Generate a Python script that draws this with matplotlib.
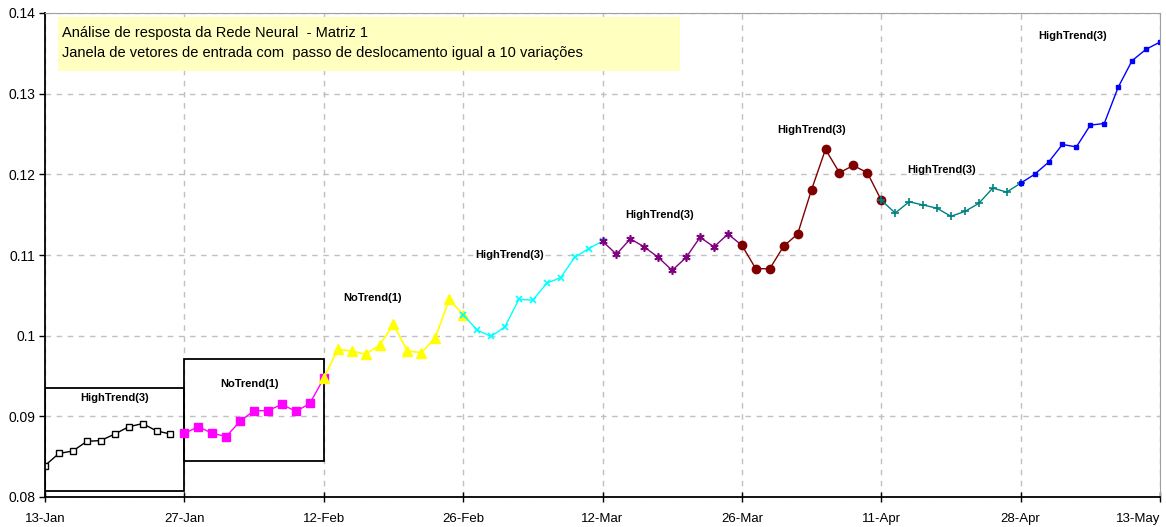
"""
Neural network response chart - Matriz 1, window shift of 10 variations.
"""
import numpy as np
import matplotlib
matplotlib.use("Agg")
import matplotlib.pyplot as plt
from matplotlib.patches import Rectangle

plt.rcParams.update({
    "font.family": ["Liberation Sans", "DejaVu Sans"],
    "font.size": 10,
})

# x ticks every 10 trading days
tick_labels = ["13-Jan", "27-Jan", "12-Feb", "26-Feb", "12-Mar",
               "26-Mar", "11-Apr", "28-Apr", "13-May"]
y_ticks = [0.08, 0.09, 0.10, 0.11, 0.12, 0.13, 0.14]
y_tick_labels = ["0.08", "0.09", "0.1", "0.11", "0.12", "0.13", "0.14"]

# series values, each window starts at the given day index
black_start = 0
black = [0.0839, 0.0854, 0.0857, 0.0869, 0.0870, 0.0878, 0.0887, 0.0891, 0.0882, 0.0878]
magenta_start = 10
magenta = [0.0879, 0.0887, 0.0879, 0.0875, 0.0894, 0.0907, 0.0907, 0.0915, 0.0906,
           0.0916, 0.0947]
yellow_start = 20
yellow = [0.0947, 0.0983, 0.0981, 0.0977, 0.0988, 0.1014, 0.0981, 0.0979, 0.0997,
          0.1045, 0.1026]
cyan_start = 30
cyan = [0.1026, 0.1007, 0.0999, 0.1011, 0.1045, 0.1044, 0.1065, 0.1072, 0.1097,
        0.1108, 0.1117]
purple_start = 40
purple = [0.1117, 0.1101, 0.1120, 0.1110, 0.1097, 0.1081, 0.1097, 0.1122, 0.1110,
          0.1126, 0.1112]
darkred_start = 50
darkred = [0.1112, 0.1083, 0.1083, 0.1111, 0.1126, 0.1181, 0.1231, 0.1202, 0.1211,
           0.1202, 0.1168]
teal_start = 60
teal = [0.1168, 0.1152, 0.1166, 0.1162, 0.1158, 0.1148, 0.1154, 0.1164, 0.1183,
        0.1178, 0.1189]
blue_start = 70
blue = [0.1189, 0.1200, 0.1215, 0.1237, 0.1234, 0.1261, 0.1263, 0.1308, 0.1341,
        0.1355, 0.1364]

# classification labels (text, day index, value)
class_labels = [
    ("HighTrend(3)", 5.0, 0.0923),
    ("NoTrend(1)", 14.7, 0.0940),
    ("NoTrend(1)", 23.5, 0.1047),
    ("HighTrend(3)", 33.3, 0.1100),
    ("HighTrend(3)", 44.1, 0.1150),
    ("HighTrend(3)", 55.0, 0.1255),
    ("HighTrend(3)", 64.3, 0.1205),
    ("HighTrend(3)", 73.7, 0.1371),
]

# window boxes (start day, end day, low, high)
boxes = [(0, 10, 0.0807, 0.0935), (10, 20, 0.0845, 0.0971)]

title_lines = ["Análise de resposta da Rede Neural  - Matriz 1",
               "Janela de vetores de entrada com  passo de deslocamento igual a 10 variações"]


def xs(start, vals):
    return np.arange(start, start + len(vals))


fig = plt.figure(figsize=(11.66, 5.27), dpi=100)
ax = fig.add_axes([45 / 1166, 1 - 497 / 527, 1115 / 1166, 484 / 527])

ax.plot(xs(black_start, black), black, color="black", lw=1, marker="s", ms=5,
        mfc="white", mec="black", mew=1)
ax.plot(xs(magenta_start, magenta), magenta, color="#FF00FF", lw=1, marker="s", ms=5.5)
ax.plot(xs(yellow_start, yellow), yellow, color="#FFFF00", lw=1.2, marker="^", ms=7)
ax.plot(xs(cyan_start, cyan), cyan, color="#00FFFF", lw=1, marker="x", ms=5, mew=1.2)
ax.plot(xs(purple_start, purple), purple, color="#800080", lw=1, marker=(6, 2, 0),
        ms=6, mew=1.2, markevery=slice(0, len(purple) - 1))
ax.plot(xs(darkred_start, darkred), darkred, color="#800000", lw=1, marker="o", ms=6)
ax.plot(xs(teal_start, teal), teal, color="#008080", lw=1, marker="+", ms=6, mew=1.2)
ax.plot(xs(blue_start, blue), blue, color="#0000FF", lw=1, marker="s", ms=3)

for x0, x1, lo, hi in boxes:
    ax.add_patch(Rectangle((x0, lo), x1 - x0, hi - lo, fill=False,
                           edgecolor="black", lw=1.3, zorder=1))

for txt, x, y in class_labels:
    ax.text(x, y, txt, ha="center", va="center", fontsize=8, fontweight="bold")

ax.set_xlim(0, 80)
ax.set_ylim(0.08, 0.14)
ax.set_xticks(np.arange(0, 81, 10))
ax.set_xticklabels(tick_labels, fontsize=9.5)
ax.get_xticklabels()[-1].set_horizontalalignment("right")
ax.set_yticks(y_ticks)
ax.set_yticklabels(y_tick_labels, fontsize=10)
ax.tick_params(axis="x", direction="inout", length=7, width=1, pad=8)
ax.tick_params(axis="y", direction="out", length=4, width=1, pad=3)
ax.grid(True, color="#C0C0C0", linestyle=(0, (4, 4)), lw=1)
ax.set_axisbelow(True)
for side in ("top", "right"):
    ax.spines[side].set_color("#A0A0A0")
for side in ("left", "bottom"):
    ax.spines[side].set_linewidth(1.3)

# yellow note box
fig.patches.append(Rectangle((58 / 1166, 1 - 71 / 527), 622 / 1166, 54 / 527,
                             transform=fig.transFigure, facecolor="#FFFFC0",
                             edgecolor="none", zorder=5))
fig.text(62 / 1166, 1 - 33 / 527, title_lines[0], ha="left", va="center",
         fontsize=10.5, zorder=6)
fig.text(62 / 1166, 1 - 53 / 527, title_lines[1], ha="left", va="center",
         fontsize=10.5, zorder=6)

fig.savefig("out.png", dpi=100)
